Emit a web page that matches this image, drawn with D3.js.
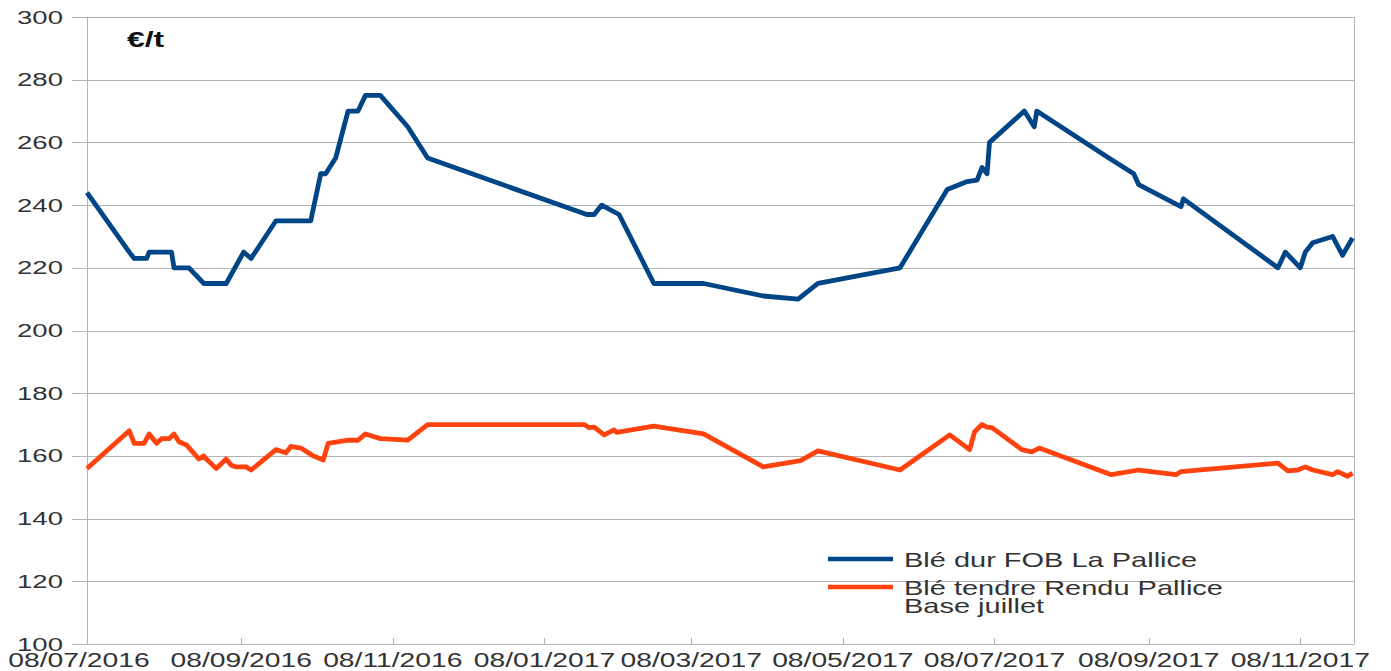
<!DOCTYPE html>
<html lang="fr">
<head>
<meta charset="UTF-8">
<title>Blé dur / Blé tendre La Pallice</title>
<script src="https://d3js.org/d3.v7.min.js"></script>
<style>
    body { margin: 0; background: #fff; }
    svg text { font-family: "Liberation Sans", Arial, sans-serif; fill: #333; }
</style>
</head>
<body>
<svg id="chart" width="1391" height="671"></svg>
<script>
// Blé dur FOB La Pallice
var durDates = ["2016-07-08","2016-07-25","2016-07-27","2016-08-01","2016-08-02","2016-08-11","2016-08-12","2016-08-18",
    "2016-08-24","2016-09-02","2016-09-09","2016-09-12","2016-09-22","2016-10-06","2016-10-10","2016-10-12","2016-10-16",
    "2016-10-21","2016-10-25","2016-10-28","2016-11-03","2016-11-14","2016-11-22","2017-01-25","2017-01-28","2017-01-31",
    "2017-02-07","2017-02-21","2017-03-13","2017-04-06","2017-04-20","2017-04-28","2017-05-31","2017-06-19","2017-06-27",
    "2017-07-01","2017-07-03","2017-07-05","2017-07-06","2017-07-20","2017-07-24","2017-07-25","2017-08-23","2017-09-02",
    "2017-09-04","2017-09-21","2017-09-22","2017-10-30","2017-11-02","2017-11-08","2017-11-10","2017-11-13","2017-11-21",
    "2017-11-25","2017-11-29"];
var durValues = [244,225,223,223,225,225,220,220,
    215,215,225,223,235,235,250,250,255,
    270,270,275,275,265,255,237,237,240,
    237,215,215,211,210,215,220,245,247.5,
    248,252,250,260,270,265,270,255,250,
    246.5,239.5,242,220,225,220,225,228,230,
    224,229.5];

// Blé tendre Rendu Pallice Base juillet
var tendreDates = ["2016-07-08","2016-07-25","2016-07-27","2016-07-31","2016-08-02","2016-08-05","2016-08-07","2016-08-10",
    "2016-08-12","2016-08-14","2016-08-17","2016-08-22","2016-08-24","2016-08-25","2016-08-29","2016-09-02","2016-09-04",
    "2016-09-06","2016-09-10","2016-09-12","2016-09-22","2016-09-24","2016-09-26","2016-09-28","2016-10-02","2016-10-07",
    "2016-10-11","2016-10-13","2016-10-21","2016-10-25","2016-10-28","2016-11-03","2016-11-14","2016-11-22","2017-01-24",
    "2017-01-26","2017-01-28","2017-02-01","2017-02-05","2017-02-06","2017-02-21","2017-03-13","2017-04-06","2017-04-21",
    "2017-04-28","2017-05-31","2017-06-20","2017-06-28","2017-06-30","2017-07-03","2017-07-05","2017-07-07","2017-07-19",
    "2017-07-23","2017-07-26","2017-08-24","2017-09-04","2017-09-19","2017-09-21","2017-10-30","2017-11-03","2017-11-07",
    "2017-11-10","2017-11-13","2017-11-21","2017-11-23","2017-11-27","2017-11-29"];
var tendreValues = [156,168,164,164,167,164,165.5,165.5,
    167,164.5,163.5,159,160,159,156,159,157,
    156.5,156.5,155.5,162,161.5,161,163,162.5,160,
    158.7,164,165,165,167,165.5,165,170,170,
    169,169.2,166.7,168.3,167.5,169.5,167,156.5,158.5,
    161.6,155.5,166.7,162,167.7,170,169.2,169,162,
    161.3,162.5,154,155.5,154,155,157.7,155.2,155.5,
    156.5,155.5,154,155,153.5,154.5];

var yTicks = [100,120,140,160,180,200,220,240,260,280,300];
var xTickDates = ["2016-07-08","2016-09-08","2016-11-08","2017-01-08","2017-03-08","2017-05-08","2017-07-08","2017-09-08","2017-11-08"];
var seriesNames = ["Blé dur FOB La Pallice", "Blé tendre Rendu Pallice|Base juillet"];
var seriesColors = ["#004586", "#ff420e"];

var parse = d3.utcParse("%Y-%m-%d");
var fmt = d3.utcFormat("%d/%m/%Y");
var stretch = 1.45; // the original picture is stretched sideways

var svg = d3.select("#chart");
var mLeft = 87, mRight = 1355, mTop = 17, mBottom = 644;

var x = d3.scaleUtc()
    .domain([parse("2016-07-08"), parse("2017-11-30")])
    .range([mLeft, mRight]);
var y = d3.scaleLinear()
    .domain([100, 300])
    .range([mBottom, mTop]);

// grid
svg.append("g").selectAll("line")
    .data(yTicks)
    .enter().append("line")
    .attr("x1", mLeft - 15).attr("x2", 1354)
    .attr("y1", function (d) { return Math.round(y(d)) + 0.5; })
    .attr("y2", function (d) { return Math.round(y(d)) + 0.5; })
    .attr("stroke", "#b3b3b3").attr("stroke-width", 1);

// plot borders
svg.append("line").attr("x1", mLeft + 0.5).attr("x2", mLeft + 0.5).attr("y1", mTop).attr("y2", mBottom)
    .attr("stroke", "#b3b3b3");
svg.append("line").attr("x1", 1354.5).attr("x2", 1354.5).attr("y1", mTop).attr("y2", mBottom)
    .attr("stroke", "#b3b3b3");

// y labels
svg.append("g").selectAll("text")
    .data(yTicks)
    .enter().append("text")
    .attr("transform", function (d) { return "translate(63," + (y(d) + 6.5) + ") scale(" + stretch + ",1)"; })
    .attr("text-anchor", "end")
    .style("font-size", "19px")
    .text(function (d) { return d; });

// x ticks + labels
var xt = xTickDates.map(parse);
svg.append("g").selectAll("line")
    .data(xt)
    .enter().append("line")
    .attr("x1", function (d) { return Math.round(x(d)) + 0.5; })
    .attr("x2", function (d) { return Math.round(x(d)) + 0.5; })
    .attr("y1", mBottom - 6).attr("y2", mBottom)
    .attr("stroke", "#b3b3b3");

svg.append("g").selectAll("text")
    .data(xt)
    .enter().append("text")
    .attr("transform", function (d, i) {
        var px = x(d) - (i == 0 ? 8 : 0);
        return "translate(" + px + ",667) scale(" + stretch + ",1)";
    })
    .attr("text-anchor", "middle")
    .style("font-size", "19.5px")
    .text(function (d) { return fmt(d); });

// unit
svg.append("text")
    .attr("transform", "translate(127,47) scale(" + stretch + ",1)")
    .style("font-size", "22px").style("font-weight", "bold").style("fill", "#111")
    .text("€/t");

// lines
var line = d3.line()
    .x(function (d) { return x(d[0]); })
    .y(function (d) { return y(d[1]); });

var durData = durDates.map(function (d, i) { return [parse(d), durValues[i]]; });
var tendreData = tendreDates.map(function (d, i) { return [parse(d), tendreValues[i]]; });

[durData, tendreData].forEach(function (data, i) {
    svg.append("path")
        .datum(data)
        .attr("d", line)
        .attr("fill", "none")
        .attr("stroke", seriesColors[i])
        .attr("stroke-width", 4.8)
        .attr("stroke-linejoin", "round");
});

// legend
var legendY = [559, 587];
seriesNames.forEach(function (name, i) {
    svg.append("line")
        .attr("x1", 828).attr("x2", 893)
        .attr("y1", legendY[i]).attr("y2", legendY[i])
        .attr("stroke", seriesColors[i]).attr("stroke-width", 4.5);
    name.split("|").forEach(function (part, j) {
        svg.append("text")
            .attr("transform", "translate(904," + (legendY[i] + 8 + j * 18) + ") scale(" + stretch + ",1)")
            .style("font-size", "20px")
            .text(part);
    });
});
</script>
</body>
</html>
